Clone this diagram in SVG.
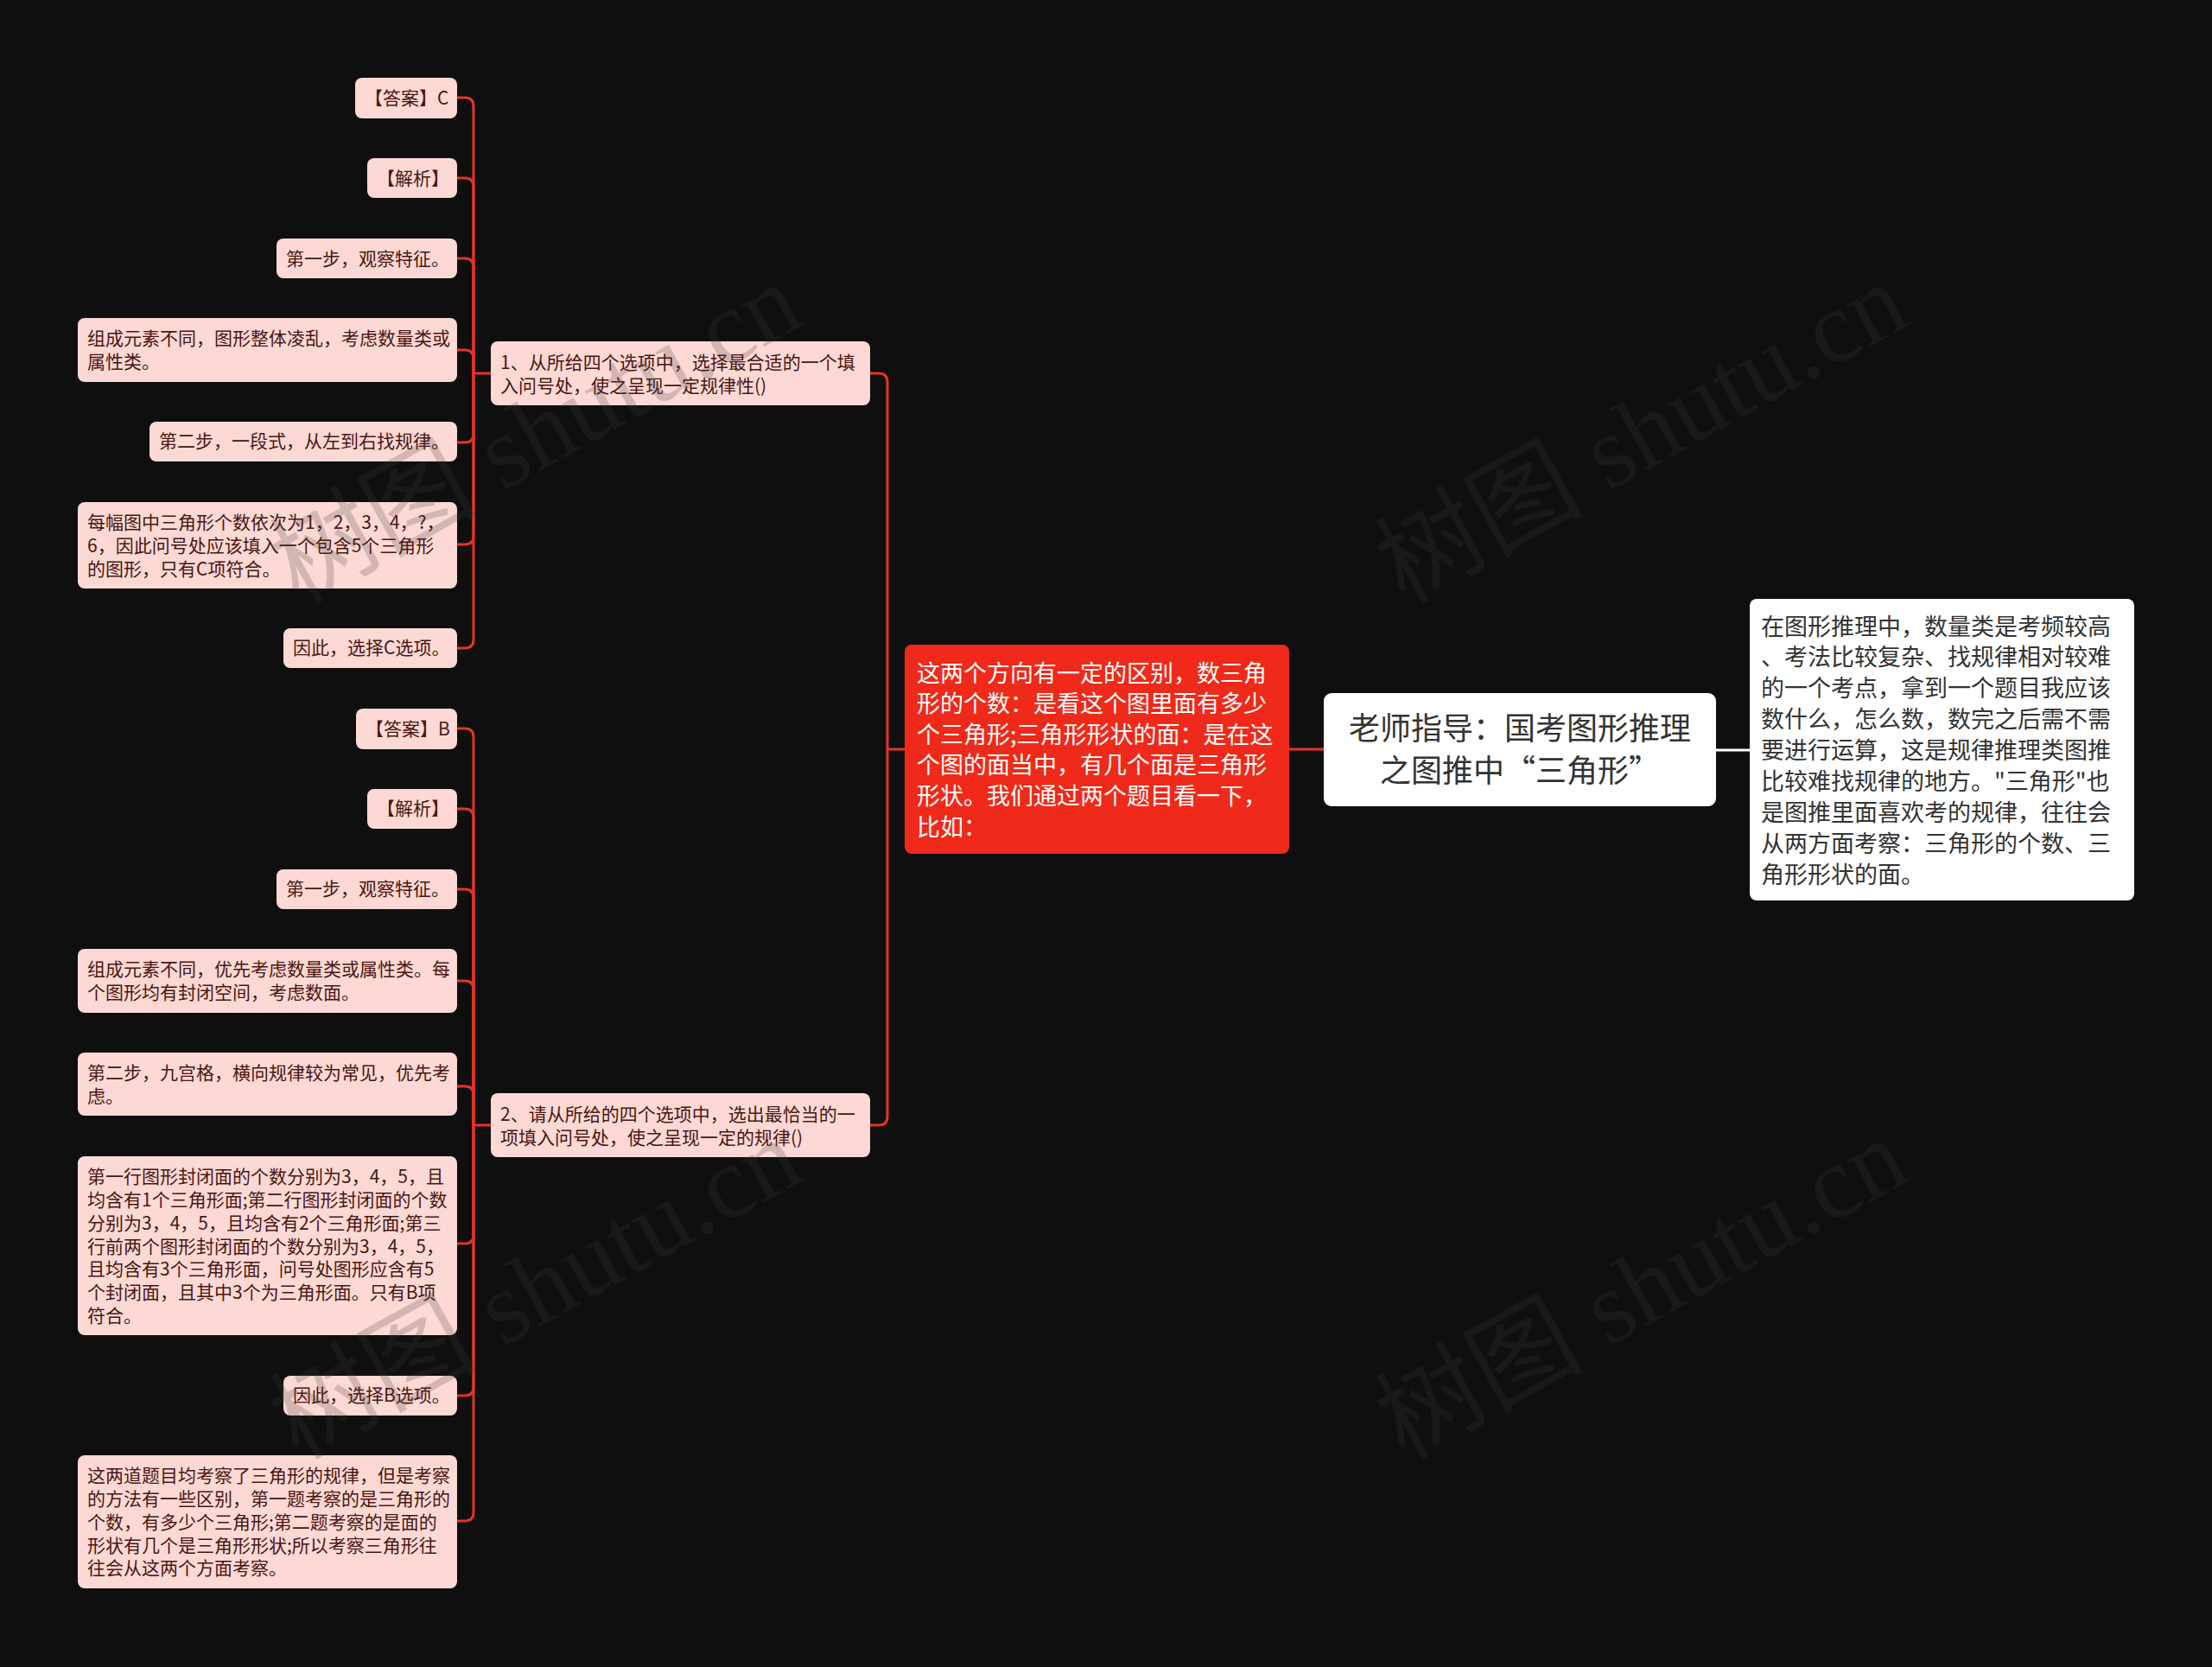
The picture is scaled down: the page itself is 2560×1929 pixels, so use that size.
<svg xmlns="http://www.w3.org/2000/svg" width="2560" height="1929" viewBox="0 0 2560 1929">
<style>
.leaf rect{fill:#fcd9d4;}
.leaf text{font-family:"Noto Sans CJK SC","Liberation Sans",sans-serif;font-size:21px;fill:#4b1512;}
.q rect{fill:#fcd9d4;}
.q text{font-family:"Noto Sans CJK SC","Liberation Sans",sans-serif;font-size:21px;fill:#4b1512;}
.big text{font-family:"Noto Sans CJK SC","Liberation Sans",sans-serif;font-size:27px;}
.conn path{fill:none;stroke:#e33424;stroke-width:3;}
.wm{font-family:"Liberation Serif","Noto Sans CJK SC",serif;font-size:120px;fill:#404040;opacity:0.22;}
</style>
<rect x="0" y="0" width="2560" height="1929" fill="#0f0f0f"/>

<g id="connectors" class="conn">
  <path d="M1986,868 H2025" style="stroke:#ffffff"/>
  <path d="M1492,867 H1532"/>
  <path d="M1047,867 H1027"/>
  <path d="M1007,432 H1017 Q1027,432 1027,442 V1292 Q1027,1302 1017,1302 H1007"/>
  <path d="M568,432 H548"/>
  <path d="M548,432 V123 Q548,113 538,113 H529"/>
  <path d="M548,432 V216 Q548,206 538,206 H529"/>
  <path d="M548,432 V309 Q548,299 538,299 H529"/>
  <path d="M548,432 V415 Q548,405 538,405 H529"/>
  <path d="M548,432 V502 Q548,512 538,512 H529"/>
  <path d="M548,432 V620 Q548,630 538,630 H529"/>
  <path d="M548,432 V740 Q548,750 538,750 H529"/>
  <path d="M568,1302 H548"/>
  <path d="M548,1302 V853 Q548,843 538,843 H529"/>
  <path d="M548,1302 V946 Q548,936 538,936 H529"/>
  <path d="M548,1302 V1039 Q548,1029 538,1029 H529"/>
  <path d="M548,1302 V1145 Q548,1135 538,1135 H529"/>
  <path d="M548,1302 V1267 Q548,1257 538,1257 H529"/>
  <path d="M548,1302 V1429 Q548,1439 538,1439 H529"/>
  <path d="M548,1302 V1605 Q548,1615 538,1615 H529"/>
  <path d="M548,1302 V1750 Q548,1760 538,1760 H529"/>
</g>

<g id="root" class="big">
  <rect x="1532" y="802" width="454" height="131" rx="9" fill="#ffffff"/>
  <text x="1759" y="855.6" text-anchor="middle" style="font-size:36px" fill="#333333">老师指导：国考图形推理</text>
  <text x="1759" y="904.6" text-anchor="middle" style="font-size:36px" fill="#333333">之图推中“三角形”</text>
</g>

<g id="intro" class="big">
  <rect x="2025" y="693" width="445" height="349" rx="8" fill="#ffffff"/>
  <text fill="#333333">
    <tspan x="2038" y="734.5">在图形推理中，数量类是考频较高</tspan>
    <tspan x="2038" y="770.4">、考法比较复杂、找规律相对较难</tspan>
    <tspan x="2038" y="806.3">的一个考点，拿到一个题目我应该</tspan>
    <tspan x="2038" y="842.2">数什么，怎么数，数完之后需不需</tspan>
    <tspan x="2038" y="878.1">要进行运算，这是规律推理类图推</tspan>
    <tspan x="2038" y="914">比较难找规律的地方。"三角形"也</tspan>
    <tspan x="2038" y="949.9">是图推里面喜欢考的规律，往往会</tspan>
    <tspan x="2038" y="985.8">从两方面考察：三角形的个数、三</tspan>
    <tspan x="2038" y="1021.7">角形形状的面。</tspan>
  </text>
</g>

<g id="main" class="big">
  <rect x="1047" y="746" width="445" height="242" rx="8" fill="#f02a1a"/>
  <text fill="#ffffff">
    <tspan x="1061" y="788.5">这两个方向有一定的区别，数三角</tspan>
    <tspan x="1061" y="824.1">形的个数：是看这个图里面有多少</tspan>
    <tspan x="1061" y="859.7">个三角形;三角形形状的面：是在这</tspan>
    <tspan x="1061" y="895.3">个图的面当中，有几个面是三角形</tspan>
    <tspan x="1061" y="930.9">形状。我们通过两个题目看一下，</tspan>
    <tspan x="1061" y="966.5">比如：</tspan>
  </text>
</g>

<g id="q1" class="q">
  <rect x="568" y="395" width="439" height="74" rx="8"/>
  <text><tspan x="579" y="427">1、从所给四个选项中，选择最合适的一个填</tspan><tspan x="579" y="454">入问号处，使之呈现一定规律性()</tspan></text>
</g>
<g id="q2" class="q">
  <rect x="568" y="1265" width="439" height="74" rx="8"/>
  <text><tspan x="579" y="1297">2、请从所给的四个选项中，选出最恰当的一</tspan><tspan x="579" y="1324">项填入问号处，使之呈现一定的规律()</tspan></text>
</g>

<g id="q1-answer" class="leaf"><rect x="411" y="90" width="118" height="47" rx="8"/><text x="422" y="121">【答案】C</text></g>
<g id="q1-analysis" class="leaf"><rect x="425" y="183" width="104" height="46" rx="8"/><text x="436" y="213.5">【解析】</text></g>
<g id="q1-step1" class="leaf"><rect x="320" y="276" width="209" height="46" rx="8"/><text x="331" y="306.5">第一步，观察特征。</text></g>
<g id="q1-elements" class="leaf"><rect x="90" y="368" width="439" height="74" rx="8"/><text><tspan x="101" y="399.4">组成元素不同，图形整体凌乱，考虑数量类或</tspan><tspan x="101" y="426.1">属性类。</tspan></text></g>
<g id="q1-step2" class="leaf"><rect x="173" y="488" width="356" height="46" rx="8"/><text x="184" y="518.4">第二步，一段式，从左到右找规律。</text></g>
<g id="q1-count" class="leaf"><rect x="90" y="581" width="439" height="100" rx="8"/><text><tspan x="101" y="612.4">每幅图中三角形个数依次为1，2，3，4，?，</tspan><tspan x="101" y="639.1">6，因此问号处应该填入一个包含5个三角形</tspan><tspan x="101" y="665.8">的图形，只有C项符合。</tspan></text></g>
<g id="q1-choose" class="leaf"><rect x="328" y="727" width="201" height="46" rx="8"/><text x="339" y="757.4">因此，选择C选项。</text></g>

<g id="q2-answer" class="leaf"><rect x="412" y="820" width="117" height="47" rx="8"/><text x="423" y="851">【答案】B</text></g>
<g id="q2-analysis" class="leaf"><rect x="425" y="913" width="104" height="46" rx="8"/><text x="436" y="943.4">【解析】</text></g>
<g id="q2-step1" class="leaf"><rect x="320" y="1006" width="209" height="46" rx="8"/><text x="331" y="1036.4">第一步，观察特征。</text></g>
<g id="q2-elements" class="leaf"><rect x="90" y="1098" width="439" height="74" rx="8"/><text><tspan x="101" y="1129.4">组成元素不同，优先考虑数量类或属性类。每</tspan><tspan x="101" y="1156.1">个图形均有封闭空间，考虑数面。</tspan></text></g>
<g id="q2-step2" class="leaf"><rect x="90" y="1218" width="439" height="73" rx="8"/><text><tspan x="101" y="1249.4">第二步，九宫格，横向规律较为常见，优先考</tspan><tspan x="101" y="1276.1">虑。</tspan></text></g>
<g id="q2-rows" class="leaf"><rect x="90" y="1338" width="439" height="207" rx="8"/><text><tspan x="101" y="1369.4">第一行图形封闭面的个数分别为3，4，5，且</tspan><tspan x="101" y="1396.1">均含有1个三角形面;第二行图形封闭面的个数</tspan><tspan x="101" y="1422.8">分别为3，4，5，且均含有2个三角形面;第三</tspan><tspan x="101" y="1449.5">行前两个图形封闭面的个数分别为3，4，5，</tspan><tspan x="101" y="1476.2">且均含有3个三角形面，问号处图形应含有5</tspan><tspan x="101" y="1502.9">个封闭面，且其中3个为三角形面。只有B项</tspan><tspan x="101" y="1529.6">符合。</tspan></text></g>
<g id="q2-choose" class="leaf"><rect x="328" y="1592" width="201" height="46" rx="8"/><text x="339" y="1622.4">因此，选择B选项。</text></g>
<g id="q2-summary" class="leaf"><rect x="90" y="1684" width="439" height="154" rx="8"/><text><tspan x="101" y="1715.4">这两道题目均考察了三角形的规律，但是考察</tspan><tspan x="101" y="1742.1">的方法有一些区别，第一题考察的是三角形的</tspan><tspan x="101" y="1768.8">个数，有多少个三角形;第二题考察的是面的</tspan><tspan x="101" y="1795.5">形状有几个是三角形形状;所以考察三角形往</tspan><tspan x="101" y="1822.2">往会从这两个方面考察。</tspan></text></g>

<g id="watermarks">
  <text class="wm" transform="translate(345,700) rotate(-29)">树图 shutu.cn</text>
  <text class="wm" transform="translate(1625,700) rotate(-29)">树图 shutu.cn</text>
  <text class="wm" transform="translate(345,1690) rotate(-29)">树图 shutu.cn</text>
  <text class="wm" transform="translate(1625,1690) rotate(-29)">树图 shutu.cn</text>
</g>
</svg>
